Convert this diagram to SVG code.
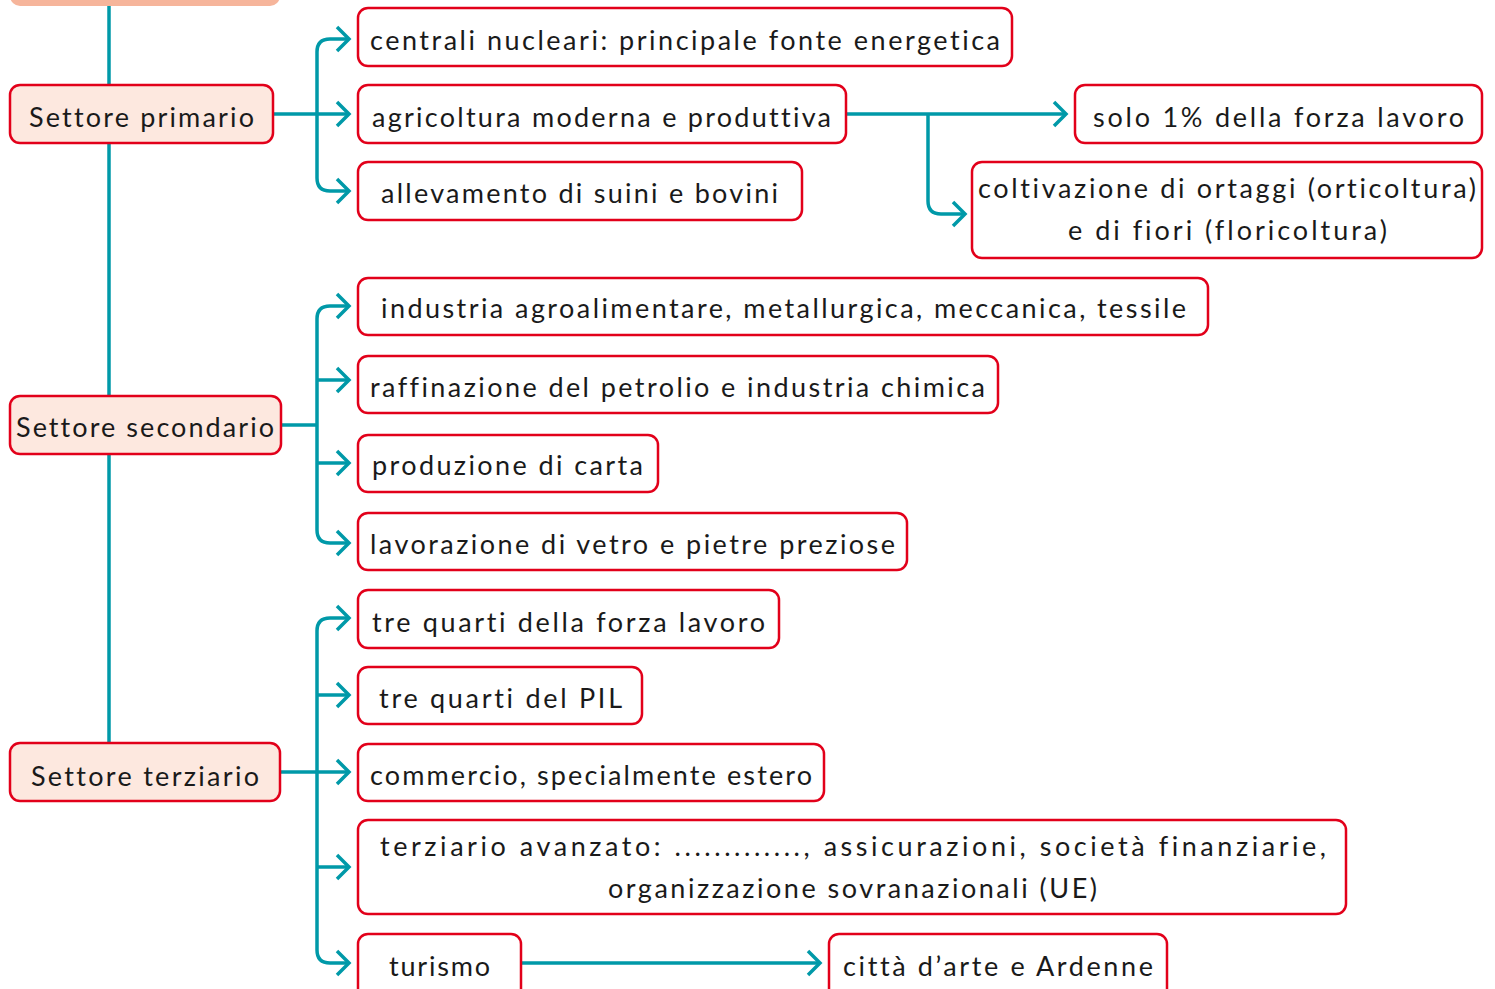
<svg xmlns="http://www.w3.org/2000/svg" width="1495" height="989" viewBox="0 0 1495 989">
<style>
.box{fill:#ffffff;stroke:#E2001A;stroke-width:2.5}
.sec{fill:#FDE8DF;stroke:#E2001A;stroke-width:2.5}
.conn{fill:none;stroke:#0099A8;stroke-width:3.5;stroke-linejoin:round}
.arr{marker-end:url(#ah)}
text{font-family:Lato,"Liberation Sans",sans-serif;font-size:27px;fill:#1a1a1a;text-anchor:middle;font-variant-ligatures:none;font-feature-settings:"liga" 0,"clig" 0,"dlig" 0}
</style>
<defs>
<marker id="ah" viewBox="-16 -16 20 32" refX="0" refY="0" markerWidth="20" markerHeight="32" markerUnits="userSpaceOnUse" orient="auto">
<path d="M-12,-12 L0,0 L-12,12" fill="none" stroke="#0099A8" stroke-width="3.5"/>
</marker>
</defs>
<g id="connectors">
<path class="conn" d="M109,0 V743"/>
<path class="conn arr" d="M273,114 H349"/>
<path class="conn arr" d="M317,114 V52 Q317,39 330,39 H349"/>
<path class="conn arr" d="M317,114 V178 Q317,191 330,191 H349"/>
<path class="conn" d="M281,425 H317"/>
<path class="conn arr" d="M317,425 V319 Q317,306 330,306 H349"/>
<path class="conn arr" d="M317,380 H349"/>
<path class="conn arr" d="M317,463 H349"/>
<path class="conn arr" d="M317,425 V530 Q317,543 330,543 H349"/>
<path class="conn arr" d="M280,772 H349"/>
<path class="conn arr" d="M317,772 V631 Q317,618 330,618 H349"/>
<path class="conn arr" d="M317,695 H349"/>
<path class="conn arr" d="M317,867 H349"/>
<path class="conn arr" d="M317,772 V950 Q317,963 330,963 H349"/>
<path class="conn arr" d="M846,114 H1066"/>
<path class="conn arr" d="M928,114 V201 Q928,214 941,214 H965"/>
<path class="conn arr" d="M521,963 H820"/>
</g>
<g id="n-top"><rect x="10" y="-50" width="270" height="56" rx="10" fill="#F6B59B"/></g>
<g id="n-primario"><rect class="sec" x="10" y="85" width="263" height="58" rx="10"/><text x="141.5" y="127" textLength="225">Settore primario</text></g>
<g id="n-secondario"><rect class="sec" x="10" y="396" width="271" height="58" rx="10"/><text x="145" y="437" textLength="258">Settore secondario</text></g>
<g id="n-terziario"><rect class="sec" x="10" y="743" width="270" height="58" rx="10"/><text x="145" y="786" textLength="228">Settore terziario</text></g>
<g id="n-centrali"><rect class="box" x="358" y="8" width="654" height="58" rx="10"/><text x="685" y="50" textLength="630">centrali nucleari: principale fonte energetica</text></g>
<g id="n-agricoltura"><rect class="box" x="358" y="85" width="488" height="58" rx="10"/><text x="601.5" y="127" textLength="459">agricoltura moderna e produttiva</text></g>
<g id="n-allevamento"><rect class="box" x="358" y="162" width="444" height="58" rx="10"/><text x="579.5" y="203" textLength="397">allevamento di suini e bovini</text></g>
<g id="n-solo"><rect class="box" x="1075" y="85" width="407" height="58" rx="10"/><text x="1278.5" y="127" textLength="371">solo 1% della forza lavoro</text></g>
<g id="n-coltivazione"><rect class="box" x="972" y="162" width="510" height="96" rx="10"/><text x="1227" y="198" textLength="498">coltivazione di ortaggi (orticoltura)</text><text x="1227.5" y="240" textLength="319">e di fiori (floricoltura)</text></g>
<g id="n-industria"><rect class="box" x="358" y="278" width="850" height="57" rx="10"/><text x="783.5" y="318" textLength="805">industria agroalimentare, metallurgica, meccanica, tessile</text></g>
<g id="n-raffinazione"><rect class="box" x="358" y="356" width="640" height="57" rx="10"/><text x="677.5" y="397" textLength="615">raffinazione del petrolio e industria chimica</text></g>
<g id="n-carta"><rect class="box" x="358" y="435" width="300" height="57" rx="10"/><text x="507.5" y="475" textLength="271">produzione di carta</text></g>
<g id="n-vetro"><rect class="box" x="358" y="513" width="549" height="57" rx="10"/><text x="632.5" y="554" textLength="525">lavorazione di vetro e pietre preziose</text></g>
<g id="n-forza"><rect class="box" x="358" y="590" width="421" height="58" rx="10"/><text x="568.5" y="632" textLength="393">tre quarti della forza lavoro</text></g>
<g id="n-pil"><rect class="box" x="358" y="667" width="284" height="57" rx="10"/><text x="500.5" y="708" textLength="243">tre quarti del PIL</text></g>
<g id="n-commercio"><rect class="box" x="358" y="744" width="466" height="57" rx="10"/><text x="591" y="785" textLength="442">commercio, specialmente estero</text></g>
<g id="n-avanzato"><rect class="box" x="358" y="820" width="988" height="94" rx="10"/><text x="853" y="856" textLength="946">terziario avanzato: ............., assicurazioni, società finanziarie,</text><text x="852.5" y="898" textLength="489">organizzazione sovranazionali (UE)</text></g>
<g id="n-turismo"><rect class="box" x="358" y="934" width="163" height="70" rx="10"/><text x="439.5" y="976" textLength="101">turismo</text></g>
<g id="n-citta"><rect class="box" x="829" y="934" width="338" height="70" rx="10"/><text x="998" y="976" textLength="310">città d’arte e Ardenne</text></g>
</svg>
